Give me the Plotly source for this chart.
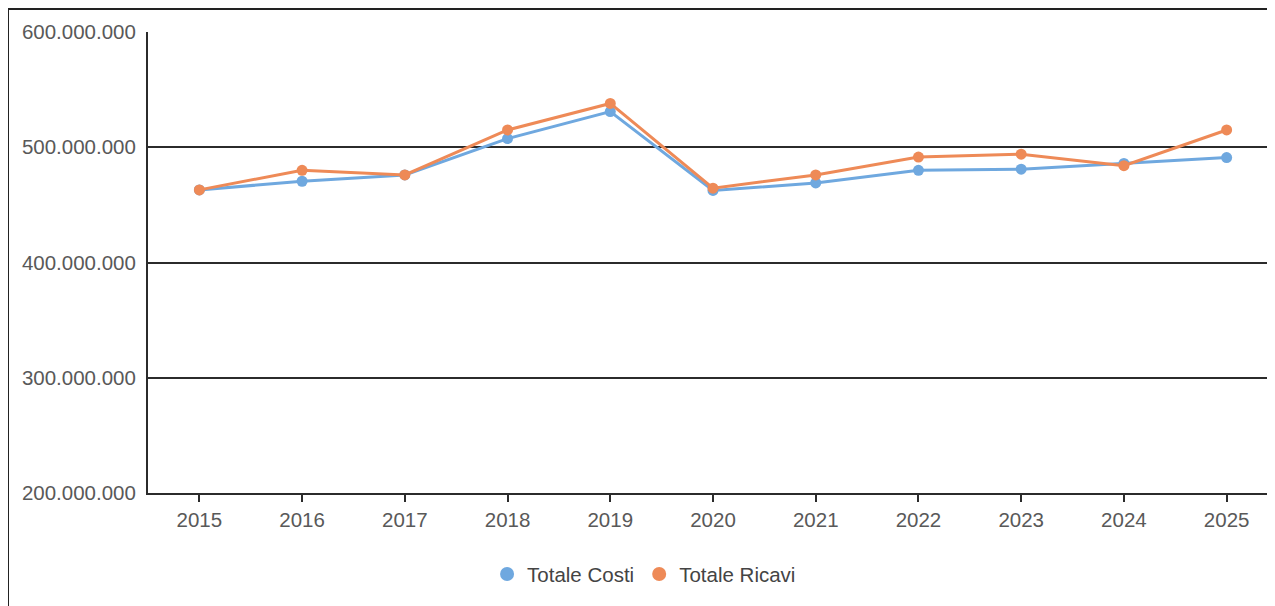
import plotly.graph_objects as go

# dati (valori in euro)
anni = ["2015", "2016", "2017", "2018", "2019", "2020", "2021", "2022", "2023", "2024", "2025"]
totale_costi = [463_000_000, 470_500_000, 476_000_000, 507_500_000, 531_000_000, 462_500_000,
                469_000_000, 480_000_000, 481_000_000, 486_000_000, 491_000_000]
totale_ricavi = [463_000_000, 480_000_000, 476_000_000, 515_000_000, 538_000_000, 464_500_000,
                 476_000_000, 491_500_000, 494_000_000, 484_000_000, 515_000_000]
y_ticks = [200_000_000, 300_000_000, 400_000_000, 500_000_000, 600_000_000]

BLUE = "#6FA8DF"
ORANGE = "#EE8A57"
GREY = "#595959"
FONT = "Liberation Sans, Arial, sans-serif"

fig = go.Figure()

# linee (legend handled by dummy traces below, so only dots show there)
for name, vals, col in [("Totale Costi", totale_costi, BLUE), ("Totale Ricavi", totale_ricavi, ORANGE)]:
    fig.add_trace(go.Scatter(x=anni, y=vals, name=name, mode="lines+markers",
                             line=dict(color=col, width=3),
                             marker=dict(color=col, size=11),
                             showlegend=False))

for name, col in [("Totale Costi", BLUE), ("Totale Ricavi", ORANGE)]:
    fig.add_trace(go.Scatter(x=[None], y=[None], name=name, mode="markers",
                             marker=dict(color=col, size=14)))

# outer frame of the original picture
fig.add_shape(type="rect", xref="paper", yref="paper",
              x0=-0.1239, x1=1.02, y0=-0.3, y1=1.0499,
              line=dict(color="#222222", width=2), layer="below")

# page body has an 8px margin, so margins are 8px smaller than the target
fig.update_layout(
    width=1270, height=606,
    margin=dict(l=140, r=0, t=24, b=121),
    paper_bgcolor="white", plot_bgcolor="white",
    separators=",.",
    font=dict(family=FONT, size=20.5, color=GREY),
    legend=dict(orientation="h", x=0.439, xanchor="center", y=-0.176, yanchor="middle",
                font=dict(family=FONT, size=20.5, color="#444444")),
    xaxis=dict(type="category", range=[-0.5, 10.5], showgrid=False,
               showline=True, linecolor="#2b2b2b", linewidth=2,
               ticks="outside", ticklen=7, tickcolor="#2b2b2b", tickwidth=2,
               tickfont=dict(family=FONT, size=20.5, color=GREY)),
    yaxis=dict(range=[200_000_000, 600_000_000], tickvals=y_ticks, tickformat=",d",
               showgrid=True, gridcolor="#2b2b2b", gridwidth=2,
               showline=True, linecolor="#2b2b2b", linewidth=2,
               zeroline=False, ticks="", ticklabelstandoff=6,
               tickfont=dict(family=FONT, size=20.5, color=GREY)),
)

fig.write_html("out.html")
